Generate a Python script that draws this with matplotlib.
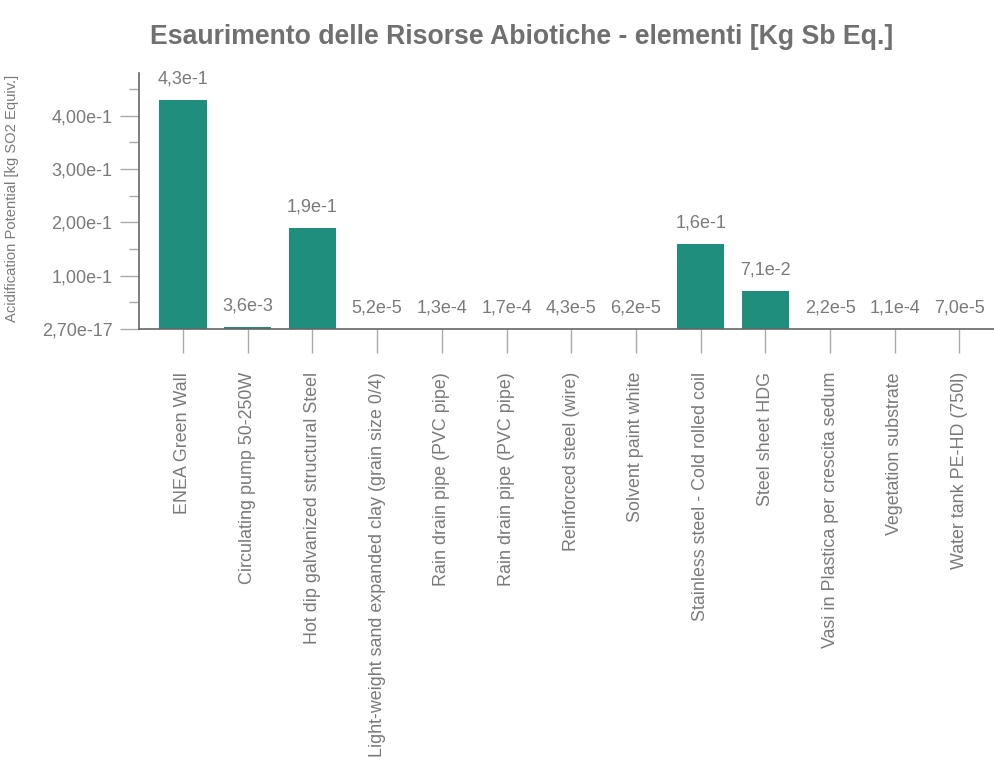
import matplotlib
matplotlib.use("Agg")
import matplotlib.pyplot as plt
from matplotlib.ticker import FixedLocator, MultipleLocator

plt.rcParams['font.family'] = ['Liberation Sans', 'DejaVu Sans']

categories = [
    "ENEA Green Wall",
    "Circulating pump 50-250W",
    "Hot dip galvanized structural Steel",
    "Light-weight sand expanded clay (grain size 0/4)",
    "Rain drain pipe (PVC pipe)",
    "Rain drain pipe (PVC pipe)",
    "Reinforced steel (wire)",
    "Solvent paint white",
    "Stainless steel - Cold rolled coil",
    "Steel sheet HDG",
    "Vasi in Plastica per crescita sedum",
    "Vegetation substrate",
    "Water tank PE-HD (750l)",
]
values = [4.3e-1, 3.6e-3, 1.9e-1, 5.2e-5, 1.3e-4, 1.7e-4, 4.3e-5,
          6.2e-5, 1.6e-1, 7.1e-2, 2.2e-5, 1.1e-4, 7.0e-5]
ytick_vals = [0, 0.1, 0.2, 0.3, 0.4]
ytick_labels = ["2,70e-17", "1,00e-1", "2,00e-1", "3,00e-1", "4,00e-1"]

title = "Esaurimento delle Risorse Abiotiche - elementi [Kg Sb Eq.]"
ylabel = "Acidification Potential [kg SO2 Equiv.]"

bar_color = '#1f8e7d'
text_color = '#7a7a7a'

fig = plt.figure(figsize=(9.95, 7.63), dpi=100)
ax = fig.add_axes([139/995, 1 - 329/763, 1 - 139/995, (329 - 73)/763])

x = list(range(len(categories)))
ax.bar(x, values, width=0.73, color=bar_color)

def fmt(v):
    s = "%.1e" % v
    mant, exp = s.split("e")
    return mant.replace(".", ",") + "e" + str(int(exp))

for xi, v in zip(x, values):
    ax.annotate(fmt(v), (xi, v), xytext=(0, 9), textcoords='offset points',
                ha='center', va='bottom', fontsize=13, color=text_color)

ax.set_xlim(-0.68, 12.55)
ax.set_ylim(0, 0.48)

ax.set_xticks(x)
ax.set_xticklabels(categories, rotation=90, fontsize=12.9, color=text_color)
ax.yaxis.set_major_locator(FixedLocator(ytick_vals))
ax.set_yticklabels(ytick_labels, fontsize=13, color=text_color)
ax.yaxis.set_minor_locator(MultipleLocator(0.05))

ax.tick_params(axis='x', length=17, width=1, color='#aaaaaa', pad=14)
ax.tick_params(axis='y', which='major', length=14, width=1, color='#aaaaaa', pad=5)
ax.tick_params(axis='y', which='minor', length=7, width=1, color='#aaaaaa')

for s in ['top', 'right']:
    ax.spines[s].set_visible(False)
for s in ['left', 'bottom']:
    ax.spines[s].set_color('#666666')
    ax.spines[s].set_linewidth(1.2)

fig.text(12/995, 1 - 198/763, ylabel, rotation=90, ha='center', va='center',
         fontsize=10.6, color=text_color)
fig.text(522/995, 1 - 37/763, title, ha='center', va='center',
         fontsize=19.2, fontweight='bold', color='#707070')

fig.savefig("out.png", dpi=100)
